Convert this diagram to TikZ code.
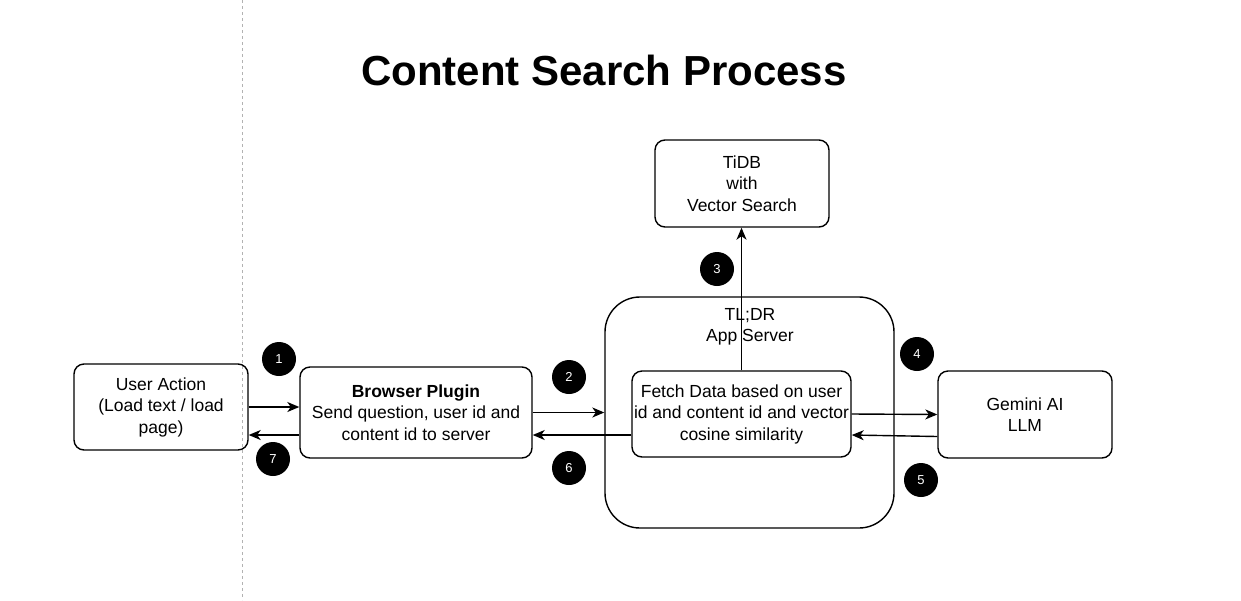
\documentclass[tikz,border=0pt]{standalone}
\usepackage{fontspec}
\setmainfont{Liberation Sans}
\usetikzlibrary{arrows.meta}
\begin{document}
\begin{tikzpicture}[x=1pt,y=-1pt,
  box/.style={draw,rounded corners=10pt,line width=1.4pt,inner sep=0pt,align=center,
    font=\fontsize{17.5}{21.5}\selectfont},
  num/.style={circle,fill=black,minimum size=34pt,inner sep=0pt,text=white,
    font=\fontsize{13}{15}\selectfont},
  arr/.style={line width=1.4pt,-{Stealth[length=12pt,width=10pt,inset=3.5pt]}}]
\useasboundingbox (0,0) rectangle (1241,600);
\draw[gray!60,dashed,line width=0.8pt] (242,0) -- (242,600);
\node[font=\bfseries\fontsize{42}{50}\selectfont] (title) at (604,70) {Content Search Process};
% boxes
\node[box,minimum width=174pt,minimum height=86pt] (ua) at (161,407) {User Action\\(Load text / load\\page)};
\node[box,minimum width=232pt,minimum height=91pt] (bp) at (416,412.5) {\textbf{Browser Plugin}\\Send question, user id and\\content id to server};
\node[box,draw,rounded corners=35pt,minimum width=289pt,minimum height=231pt] (app) at (749.5,412.5) {};
\node[font=\fontsize{17.5}{21.5}\selectfont,align=center] (apptxt) at (750,327) {TL;DR\\App Server};
\node[box,fill=white,minimum width=219pt,minimum height=86pt] (fetch) at (741.5,414) {Fetch Data based on user\\id and content id and vector\\cosine similarity};
\node[box,minimum width=174pt,minimum height=87pt] (tidb) at (742,183.5) {TiDB\\ with\\Vector Search};
\node[box,minimum width=174pt,minimum height=87pt] (gem) at (1025,414.5) {Gemini AI\\LLM};
% numbers
\node[num] (n1) at (279,359) {1};
\node[num] (n2) at (569,377) {2};
\node[num] (n3) at (717,269) {3};
\node[num] (n4) at (917,354) {4};
\node[num] (n5) at (921,480) {5};
\node[num] (n6) at (569,468) {6};
\node[num] (n7) at (273,459) {7};
% connectors
\draw[arr] (ua.east) -- (ua.east -| bp.west);
\draw[arr] (bp.east) -- (bp.east -| app.west);
\draw[arr] ([yshift=-21pt]fetch.west) -- ([yshift=-21pt]fetch.west -| bp.east);
\draw[arr] ([yshift=-22.5pt]bp.west) -- ([yshift=-22.5pt]bp.west -| ua.east);
\draw[arr] (fetch.north) -- (fetch.north |- tidb.south);
\draw[arr] (fetch.east) -- (gem.west);
\draw[arr] ([yshift=-22pt]gem.west) -- ([yshift=-21pt]fetch.east);
\end{tikzpicture}
\end{document}
